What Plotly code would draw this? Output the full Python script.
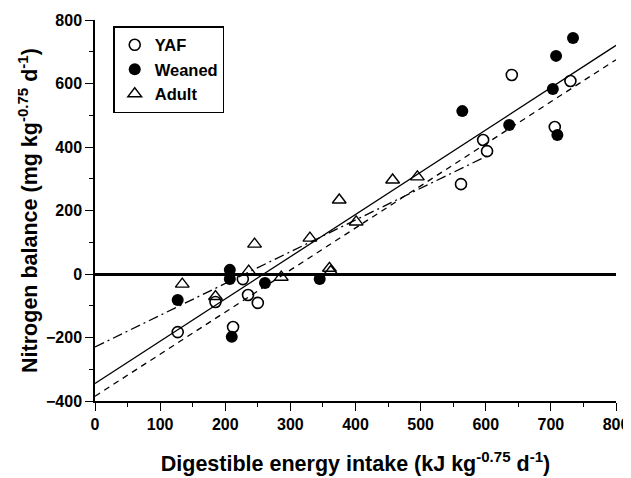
import plotly.graph_objects as go

# ---- data ----
yaf_x = [127, 185, 212, 227, 235, 250, 562, 596, 602, 640, 706, 730]
yaf_y = [-183, -88, -167, -16, -66, -91, 283, 422, 387, 627, 463, 608]

weaned_x = [127, 207, 207, 210, 261, 345, 564, 636, 703, 708, 710, 734]
weaned_y = [-82, 13, -16, -198, -28, -16, 513, 469, 583, 687, 438, 743]

adult_x = [134, 185, 236, 245, 286, 330, 360, 362, 375, 401, 457, 495]
adult_y = [-32, -71, 9, 94, -10, 113, 18, 8, 233, 164, 296, 306]

# regression lines (end points)
solid_x = [0, 800]
solid_y = [-345, 720]
dashed_x = [0, 800]
dashed_y = [-385, 675]
dashdot_x = [0, 605]
dashdot_y = [-230, 375]

x_ticks = [0, 100, 200, 300, 400, 500, 600, 700, 800]
y_ticks = [-400, -200, 0, 200, 400, 600, 800]

FONT = "Liberation Sans, Arial, sans-serif"

fig = go.Figure()

fig.add_trace(go.Scatter(x=solid_x, y=solid_y, mode="lines", showlegend=False,
                         line=dict(color="black", width=1.3)))
fig.add_trace(go.Scatter(x=dashed_x, y=dashed_y, mode="lines", showlegend=False,
                         line=dict(color="black", width=1.3, dash="6px,5px")))
fig.add_trace(go.Scatter(x=dashdot_x, y=dashdot_y, mode="lines", showlegend=False,
                         line=dict(color="black", width=1.3, dash="10px,4px,2px,4px")))

fig.add_trace(go.Scatter(x=yaf_x, y=yaf_y, mode="markers", name="YAF",
                         marker=dict(symbol="circle-open", size=11, color="black",
                                     line=dict(width=1.6, color="black"))))
fig.add_trace(go.Scatter(x=weaned_x, y=weaned_y, mode="markers", name="Weaned",
                         marker=dict(symbol="circle", size=12, color="black")))
fig.add_trace(go.Scatter(x=adult_x, y=adult_y, mode="markers", name="Adult",
                         marker=dict(symbol="triangle-up-open", size=12, color="black",
                                     line=dict(width=1.4, color="black"))))

tickfont = dict(family=FONT, size=16, color="black", weight="bold")
titlefont = dict(family=FONT, size=21.5, color="black", weight="bold")

# the page body adds an 8px offset; the figure is sized to fit the window
fig.update_layout(
    width=623, height=470,
    margin=dict(l=87, r=15, t=12, b=77, autoexpand=False),
    paper_bgcolor="white", plot_bgcolor="white",
    font=dict(family=FONT, color="black", size=16),
    legend=dict(x=0.035, y=0.984, xanchor="left", yanchor="top",
                bordercolor="black", borderwidth=1.5, bgcolor="white",
                font=dict(family=FONT, size=16.5, color="black", weight="bold"),
                tracegroupgap=0, itemwidth=30),
    xaxis=dict(range=[0, 800], tickvals=x_ticks, showgrid=False, zeroline=False,
               automargin=False,
               showline=True, linecolor="black", linewidth=1.5,
               ticks="outside", ticklen=8, tickwidth=1.3, tickcolor="black",
               minor=dict(dtick=50, ticks="outside", ticklen=4, tickwidth=1.2, tickcolor="black"),
               tickfont=tickfont,
               title=dict(text="Digestible energy intake (kJ kg<sup>-0.75</sup> d<sup>-1</sup>)",
                          font=titlefont, standoff=24)),
    yaxis=dict(range=[-400, 800], tickvals=y_ticks, showgrid=False,
               automargin=False,
               zeroline=True, zerolinecolor="black", zerolinewidth=2.5,
               showline=True, linecolor="black", linewidth=1.5,
               ticks="outside", ticklen=8, tickwidth=1.3, tickcolor="black",
               minor=dict(dtick=100, ticks="outside", ticklen=4, tickwidth=1.2, tickcolor="black"),
               tickfont=tickfont,
               title=dict(text="Nitrogen balance (mg kg<sup>-0.75</sup> d<sup>-1</sup>)",
                          font=titlefont, standoff=2)),
)

fig.write_html("out.html")
